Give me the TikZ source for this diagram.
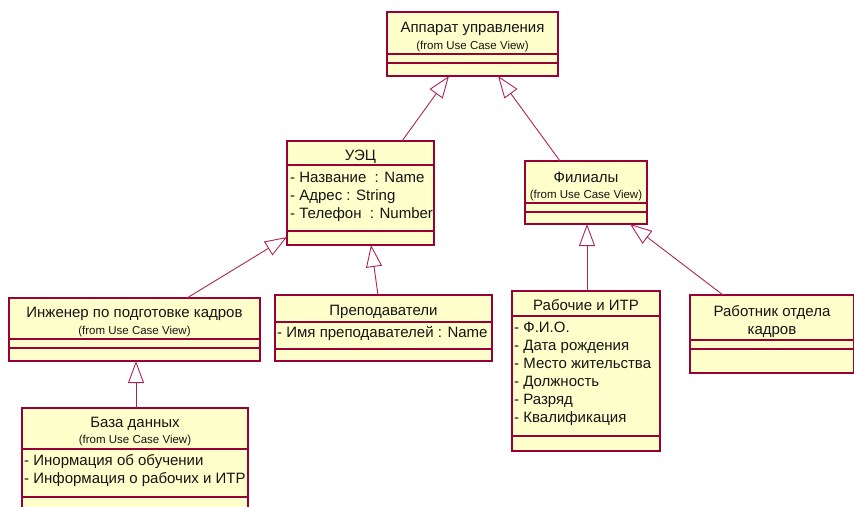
\documentclass[tikz,border=0pt]{standalone}
\usepackage{fontspec}
\setmainfont{Liberation Sans}
\usetikzlibrary{arrows.meta}

\definecolor{roseline}{RGB}{153,0,51}
\definecolor{roselink}{RGB}{172,36,86}
\definecolor{rosefill}{RGB}{255,255,204}
\definecolor{rosetext}{RGB}{20,20,20}

\tikzset{
  classbox/.style={draw=roseline, fill=rosefill, line width=1.4pt,
    inner sep=0pt, outer sep=0pt, anchor=north west, rectangle},
  compline/.style={draw=roseline, line width=1.2pt},
  ctitle/.style={anchor=base, inner sep=0pt, text=rosetext,
    font=\fontsize{15}{18}\selectfont},
  cfrom/.style={anchor=base, inner sep=0pt, text=rosetext,
    font=\fontsize{11.5}{13}\selectfont},
  cattr/.style={anchor=base west, inner sep=0pt, text=rosetext,
    font=\fontsize{15}{18}\selectfont},
  generalize/.style={draw=roselink, line width=0.9pt,
    -{Triangle[open, length=22pt, width=16pt]}},
}

\begin{document}
\begin{tikzpicture}[x=1pt, y=-1pt]
\useasboundingbox (0,0) rectangle (854,506);
\clip (0,0) rectangle (854,506);

% ---------- class boxes ----------
\node[classbox, minimum width=171pt, minimum height=64pt]  (app) at (387,12)  {};
\node[classbox, minimum width=147pt, minimum height=104pt] (uec) at (287,141) {};
\node[classbox, minimum width=122pt, minimum height=63pt]  (fil) at (525,161) {};
\node[classbox, minimum width=251pt, minimum height=63pt]  (inz) at (9,298)   {};
\node[classbox, minimum width=217pt, minimum height=66pt]  (pre) at (275,295) {};
\node[classbox, minimum width=148pt, minimum height=160pt] (rab) at (512,291) {};
\node[classbox, minimum width=164pt, minimum height=78pt]  (otd) at (690,295) {};
\node[classbox, minimum width=226pt, minimum height=115pt] (baz) at (22,408)  {};

% ---------- compartment separators ----------
\foreach \b/\a/\c in {app/42/51, uec/24/90, fil/42/51, inz/41/50,
                      pre/27/54, rab/25/145, otd/45/54, baz/41/89} {
  \draw[compline] ([yshift=-\a]\b.north west) -- ([yshift=-\a]\b.north east);
  \draw[compline] ([yshift=-\c]\b.north west) -- ([yshift=-\c]\b.north east);
}

% ---------- Аппарат управления ----------
\node[ctitle] (appT) at ([yshift=-20]app.north) {Аппарат управления};
\node[cfrom]  (appF) at ([yshift=-37]app.north) {(from Use Case View)};

% ---------- УЭЦ ----------
\node[ctitle] (uecT) at ([yshift=-19]uec.north) {УЭЦ};
\node[cattr] (uecA1) at ([xshift=3,yshift=-41]uec.north west) {- Название\ \ : Name};
\node[cattr] (uecA2) at ([xshift=3,yshift=-59]uec.north west) {- Адрес : String};
\node[cattr] (uecA3) at ([xshift=3,yshift=-77]uec.north west) {- Телефон\ \ : Number};

% ---------- Филиалы ----------
\node[ctitle] (filT) at ([yshift=-21]fil.north) {Филиалы};
\node[cfrom]  (filF) at ([yshift=-37]fil.north) {(from Use Case View)};

% ---------- Инженер по подготовке кадров ----------
\node[ctitle] (inzT) at ([yshift=-19]inz.north) {Инженер по подготовке кадров};
\node[cfrom]  (inzF) at ([yshift=-36]inz.north) {(from Use Case View)};

% ---------- Преподаватели ----------
\node[ctitle] (preT) at ([yshift=-20]pre.north) {Преподаватели};
\node[cattr] (preA1) at ([xshift=2,yshift=-42]pre.north west) {- Имя преподавателей : Name};

% ---------- Рабочие и ИТР ----------
\node[ctitle] (rabT) at ([yshift=-19]rab.north) {Рабочие и ИТР};
\node[cattr] (rabA1) at ([xshift=2,yshift=-41]rab.north west)  {- Ф.И.О.};
\node[cattr] (rabA2) at ([xshift=2,yshift=-59]rab.north west)  {- Дата рождения};
\node[cattr] (rabA3) at ([xshift=2,yshift=-77]rab.north west)  {- Место жительства};
\node[cattr] (rabA4) at ([xshift=2,yshift=-95]rab.north west)  {- Должность};
\node[cattr] (rabA5) at ([xshift=2,yshift=-113]rab.north west) {- Разряд};
\node[cattr] (rabA6) at ([xshift=2,yshift=-131]rab.north west) {- Квалификация};

% ---------- Работник отдела кадров ----------
\node[ctitle] (otdT1) at ([yshift=-21]otd.north) {Работник отдела};
\node[ctitle] (otdT2) at ([yshift=-39]otd.north) {кадров};

% ---------- База данных ----------
\node[ctitle] (bazT) at ([yshift=-19]baz.north) {База данных};
\node[cfrom]  (bazF) at ([yshift=-35]baz.north) {(from Use Case View)};
\node[cattr] (bazA1) at ([xshift=2,yshift=-57]baz.north west) {- Инормация об обучении};
\node[cattr] (bazA2) at ([xshift=2,yshift=-75]baz.north west) {- Информация о рабочих и ИТР};

% ---------- generalizations ----------
\draw[generalize] ([xshift=115]uec.north west) -- ([xshift=62]app.south west);
\draw[generalize] ([xshift=35]fil.north west)  -- ([xshift=111]app.south west);
\draw[generalize] ([xshift=178]inz.north west) -- ([yshift=8]uec.south west);
\draw[generalize] ([xshift=103]pre.north west) -- ([xshift=84]uec.south west);
\draw[generalize] ([xshift=114]baz.north west) -- ([xshift=127]inz.south west);
\draw[generalize] ([xshift=75]rab.north west)  -- ([xshift=62]fil.south west);
\draw[generalize] ([xshift=33]otd.north west)  -- ([xshift=105]fil.south west);
\end{tikzpicture}
\end{document}
